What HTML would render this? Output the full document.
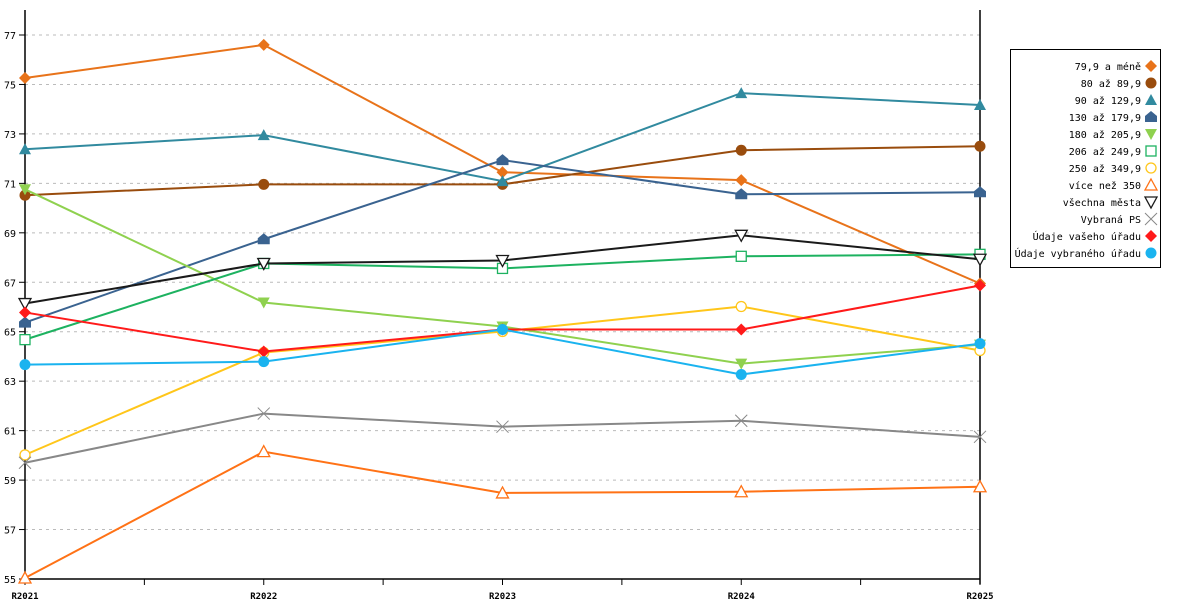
<!DOCTYPE html>
<html><head><meta charset="utf-8"><style>
body{margin:0;background:#fff;width:1200px;height:600px;overflow:hidden}
svg text{font-family:"DejaVu Sans Mono","Liberation Mono",monospace;fill:#000}
</style></head><body>
<svg id="chart" width="1200" height="600" xmlns="http://www.w3.org/2000/svg"></svg>
<script>
const categories=["R2021","R2022","R2023","R2024","R2025"];
const yTicks=[55,57,59,61,63,65,67,69,71,73,75,77];
const seriesNames=["79,9 a méně","80 až 89,9","90 až 129,9","130 až 179,9","180 až 205,9","206 až 249,9","250 až 349,9","více než 350","všechna města","Vybraná PS","Údaje vašeho úřadu","Údaje vybraného úřadu"];
const s0=[75.26,76.6,71.45,71.13,66.95];
const s1=[70.52,70.96,70.96,72.34,72.5];
const s2=[72.38,72.95,71.09,74.65,74.17];
const s3=[65.37,68.74,71.94,70.56,70.64];
const s4=[70.76,66.18,65.21,63.71,64.48];
const s5=[64.68,67.76,67.56,68.05,68.13];
const s6=[60.02,64.16,65.01,66.02,64.24];
const s7=[55.04,60.15,58.48,58.53,58.73];
const s8=[66.14,67.76,67.88,68.9,67.93];
const s9=[59.7,61.69,61.16,61.4,60.75];
const s10=[65.78,64.2,65.09,65.09,66.87];
const s11=[63.67,63.79,65.09,63.27,64.52];
const allSeries=[s0,s1,s2,s3,s4,s5,s6,s7,s8,s9,s10,s11];
const colors=["#e8731a","#994c0d","#318a9f","#3a6390","#8fd14f","#1db260","#ffc61a","#ff7216","#1a1a1a","#888888","#ff1a1a","#1ab3ef"];
const markers=["diamond","circle","tri","house","tridown","square","ocircle","otri","otridown","x","diamond","circle"];
const X0=25,X1=980,YB=579,YT=35;
const sx=i=>X0+i*(X1-X0)/(categories.length-1);
const sy=v=>YB-(v-55)*(YB-YT)/22;
const svg=document.getElementById('chart');
const NS="http://www.w3.org/2000/svg";
function mk(t,a,p){const e=document.createElementNS(NS,t);for(const k in a)e.setAttribute(k,a[k]);(p||svg).appendChild(e);return e;}
yTicks.forEach(v=>{
 const g=mk('line',{x1:X0,x2:X1,y1:sy(v),y2:sy(v),stroke:'#bbb','stroke-dasharray':'3,4'});
 
 
 mk('line',{x1:X0-6,x2:X0,y1:sy(v),y2:sy(v),stroke:'#000'});
 const t=mk('text',{x:X0-21,y:sy(v)+4,'font-size':'10'});t.textContent=v;
 
 
});
const ya=mk('line',{x1:X0,x2:X0,y1:10,y2:YB,stroke:'#000','stroke-width':1.5});


mk('line',{x1:X1,x2:X1,y1:10,y2:YB+5,stroke:'#000','stroke-width':1.5});
const xa=mk('line',{x1:X0,x2:X1,y1:YB,y2:YB,stroke:'#000','stroke-width':1.5});


categories.forEach((c,i)=>{
 mk('line',{x1:sx(i),x2:sx(i),y1:YB,y2:YB+6,stroke:'#000'});
 if(i<categories.length-1){const m=(sx(i)+sx(i+1))/2;mk('line',{x1:m,x2:m,y1:YB,y2:YB+6,stroke:'#000'});}
 const t=mk('text',{x:sx(i),y:599,'font-size':'9','text-anchor':'middle','font-weight':'bold'});t.textContent=c;
 
 
});
function marker(type,x,y,col,p){
 switch(type){
 case 'diamond':return mk('polygon',{points:`${x},${y-6} ${x+6},${y} ${x},${y+6} ${x-6},${y}`,fill:col},p);
 case 'circle':return mk('circle',{cx:x,cy:y,r:5.5,fill:col},p);
 case 'tri':return mk('polygon',{points:`${x},${y-6} ${x+6},${y+5} ${x-6},${y+5}`,fill:col},p);
 case 'house':return mk('polygon',{points:`${x},${y-6} ${x+6},${y-1} ${x+6},${y+5} ${x-6},${y+5} ${x-6},${y-1}`,fill:col},p);
 case 'tridown':return mk('polygon',{points:`${x-6},${y-5} ${x+6},${y-5} ${x},${y+6}`,fill:col},p);
 case 'square':return mk('rect',{x:x-5,y:y-5,width:10,height:10,fill:'#fff',stroke:col,'stroke-width':1.3},p);
 case 'ocircle':return mk('circle',{cx:x,cy:y,r:5,fill:'#fff',stroke:col,'stroke-width':1.3},p);
 case 'otri':return mk('polygon',{points:`${x},${y-6} ${x+6},${y+5} ${x-6},${y+5}`,fill:'#fff',stroke:col,'stroke-width':1.3},p);
 case 'otridown':return mk('polygon',{points:`${x-6},${y-5} ${x+6},${y-5} ${x},${y+6}`,fill:'#fff',stroke:col,'stroke-width':1.3},p);
 case 'x':const g=mk('g',{},p);mk('path',{d:`M${x-6},${y-6}L${x+6},${y+6}M${x+6},${y-6}L${x-6},${y+6}`,stroke:col,'stroke-width':1},g);return g;
 }
}
allSeries.forEach((s,k)=>{
 const g=mk('g',{});
 
 
 mk('polyline',{points:s.map((v,i)=>sx(i)+','+sy(v)).join(' '),fill:'none',stroke:colors[k],'stroke-width':2},g);
 s.forEach((v,i)=>{const m=marker(markers[k],sx(i),sy(v),colors[k],g);
  
  });
});
const lg=mk('g',{});


mk('rect',{x:1010.5,y:49.5,width:150,height:218,fill:'#fff',stroke:'#000'},lg);
seriesNames.forEach((n,k)=>{
 const y=66+k*17;
 const e=mk('g',{},lg);
 
 
 const t=mk('text',{x:1141,y:y+4,'font-size':'10','text-anchor':'end'},e);t.textContent=n;
 marker(markers[k],1151,y,colors[k],e);
});
</script>
</body></html>
